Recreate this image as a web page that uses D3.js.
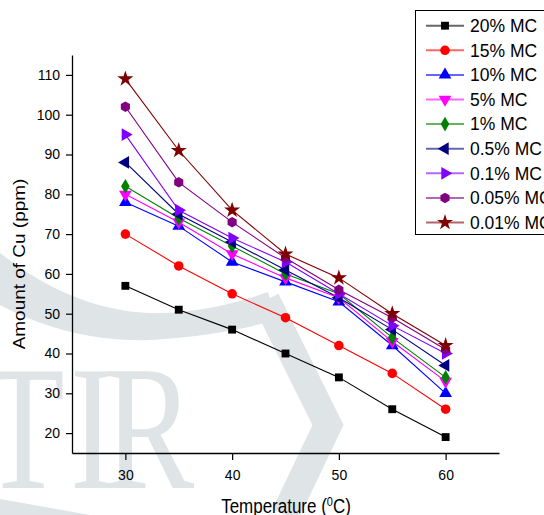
<!DOCTYPE html>
<html><head><meta charset="utf-8">
<script src="https://cdn.jsdelivr.net/npm/d3@7"></script>
<style>
html,body{margin:0;padding:0;background:#fff;}
text{font-family:"Liberation Sans",Arial,sans-serif;}
</style></head>
<body>
<svg id="chart" width="544" height="515"></svg>
<script>
const temperatures = [30, 35, 40, 45, 50, 55, 60];
const seriesNames = ["20% MC","15% MC","10% MC","5% MC","1% MC","0.5% MC","0.1% MC","0.05% MC","0.01% MC"];
const mc20  = [57, 51, 46, 40, 34, 26, 19];
const mc15  = [70, 62, 55, 49, 42, 35, 26];
const mc10  = [78, 72, 63, 58, 53, 42, 30];
const mc5   = [80, 73, 65, 59, 54, 43, 33];
const mc1   = [82, 74, 67, 60, 55, 44, 34];
const mc05  = [88, 75, 68, 61, 54, 46, 37];
const mc01  = [95, 76, 69, 63, 55, 47, 40];
const mc005 = [102, 83, 73, 64, 56, 49, 41];
const mc001 = [109, 91, 76, 65, 59, 50, 42];
const seriesValues = [mc20, mc15, mc10, mc5, mc1, mc05, mc01, mc005, mc001];
const xMajorTicks = [30, 40, 50, 60];
const xMinorTicks = [25, 35, 45, 55, 65];
const yMajorTicks = [20, 30, 40, 50, 60, 70, 80, 90, 100, 110];
const yMinorTicks = [15, 25, 35, 45, 55, 65, 75, 85, 95, 105, 115];

const colors = ["#000000","#ff0000","#0000ff","#ff00ff","#008000","#000080","#8000ff","#800080","#800000"];
const svg = d3.select("#chart");

// watermark (background decoration)
const wm = svg.append("g").attr("fill", "#dfe4e7");
wm.append("path").attr("d", "M0,253 C60,300 120,318 180,312 C220,308 245,300 268,292 L276,320 C240,330 200,337 150,340 C90,342 40,326 0,305 Z");
wm.append("polyline").attr("points", "266,300 328,425 285,515").attr("fill", "none")
  .attr("stroke", "#dfe4e7").attr("stroke-width", 28).attr("stroke-linejoin", "miter");
wm.append("path").attr("d", "M0,499 L90,515 L0,515 Z");
[["T", -18], ["I", 70], ["R", 104]].forEach(([ch, px]) => {
  wm.append("text").text(ch)
    .attr("transform", `translate(${px},488) scale(0.76,1)`)
    .style("font-family", "'Liberation Serif','DejaVu Serif',serif")
    .style("font-size", "178px");
});

const x = d3.scaleLinear().domain([25, 65]).range([72, 499]);
const y = d3.scaleLinear().domain([15, 115]).range([453, 55]);

// axes
const gx = svg.append("g").attr("transform", "translate(0,453)");
gx.call(d3.axisBottom(x).tickValues(xMinorTicks).tickSize(4).tickFormat("").tickSizeOuter(0));
gx.call(d3.axisBottom(x).tickValues(xMajorTicks).tickSize(7).tickPadding(10).tickSizeOuter(0));
const gy = svg.append("g").attr("transform", "translate(72,0)");
gy.call(d3.axisLeft(y).tickValues(yMinorTicks).tickSize(3).tickFormat("").tickSizeOuter(0));
gy.call(d3.axisLeft(y).tickValues(yMajorTicks).tickSize(6).tickPadding(6).tickSizeOuter(0));
svg.selectAll(".domain").attr("stroke", "#000").attr("stroke-width", 1.3);
svg.selectAll(".tick line").attr("stroke", "#000").attr("stroke-width", 1.2);
svg.selectAll(".tick text").style("font-size", "14px").attr("fill", "#000")
  .style("font-family", "'Liberation Sans',Arial,sans-serif");

// axis titles
const xt = svg.append("text").attr("transform", "translate(286,513) scale(1,1.15)")
  .attr("text-anchor", "middle").style("font-size", "17px").attr("fill", "#000");
xt.append("tspan").text("Temperature (");
xt.append("tspan").text("0").attr("dy", -6).style("font-size", "11px");
xt.append("tspan").text("C)").attr("dy", 6);
svg.append("text").attr("transform", "translate(25,264) rotate(-90) scale(1.15,1)")
  .attr("text-anchor", "middle").style("font-size", "16.5px").attr("fill", "#000")
  .text("Amount of Cu (ppm)");

// marker shapes
const hexagon = { draw(ctx, size) {
  const r = Math.sqrt(size / (1.5 * Math.sqrt(3)));
  for (let i = 0; i < 6; i++) {
    const a = Math.PI / 6 + i * Math.PI / 3;
    const px = r * Math.cos(a), py = r * Math.sin(a);
    if (i === 0) ctx.moveTo(px, py); else ctx.lineTo(px, py);
  }
  ctx.closePath();
}};
const markers = [
  {type: d3.symbolSquare, size: 62, rot: 0},
  {type: d3.symbolCircle, size: 72, rot: 0},
  {type: d3.symbolTriangle, size: 70, rot: 0},
  {type: d3.symbolTriangle, size: 70, rot: 180},
  {type: d3.symbolDiamond, size: 64, rot: 0},
  {type: d3.symbolTriangle, size: 70, rot: -90},
  {type: d3.symbolTriangle, size: 70, rot: 90},
  {type: hexagon, size: 72, rot: 0},
  {type: d3.symbolStar, size: 80, rot: 0}
];

const line = d3.line().x((d, i) => x(temperatures[i])).y(d => y(d));
const plot = svg.append("g");
seriesValues.forEach((vals, k) => {
  plot.append("path").datum(vals).attr("d", line).attr("fill", "none")
    .attr("stroke", colors[k]).attr("stroke-width", 1.1);
});
seriesValues.forEach((vals, k) => {
  const m = markers[k];
  plot.selectAll(null).data(vals).enter().append("path")
    .attr("d", d3.symbol().type(m.type).size(m.size))
    .attr("transform", (d, i) => `translate(${x(temperatures[i])},${y(d)}) rotate(${m.rot})`)
    .attr("fill", colors[k]);
});

// legend
const lg = svg.append("g");
lg.append("rect").attr("x", 415.5).attr("y", 10.5).attr("width", 160).attr("height", 224)
  .attr("fill", "#fff").attr("stroke", "#000").attr("stroke-width", 1);
seriesNames.forEach((name, k) => {
  const yy = 25.7 + k * 24.6;
  const m = markers[k];
  lg.append("line").attr("x1", 426).attr("x2", 464).attr("y1", yy).attr("y2", yy)
    .attr("stroke", colors[k]).attr("stroke-width", 2).attr("stroke-opacity", 0.6);
  lg.append("path").attr("d", d3.symbol().type(m.type).size(m.size))
    .attr("transform", `translate(445,${yy}) rotate(${m.rot})`).attr("fill", colors[k]);
  lg.append("text").attr("x", 470).attr("y", yy + 6.3).style("font-size", "17.5px")
    .attr("fill", "#000").text(name);
});
</script>
</body></html>
